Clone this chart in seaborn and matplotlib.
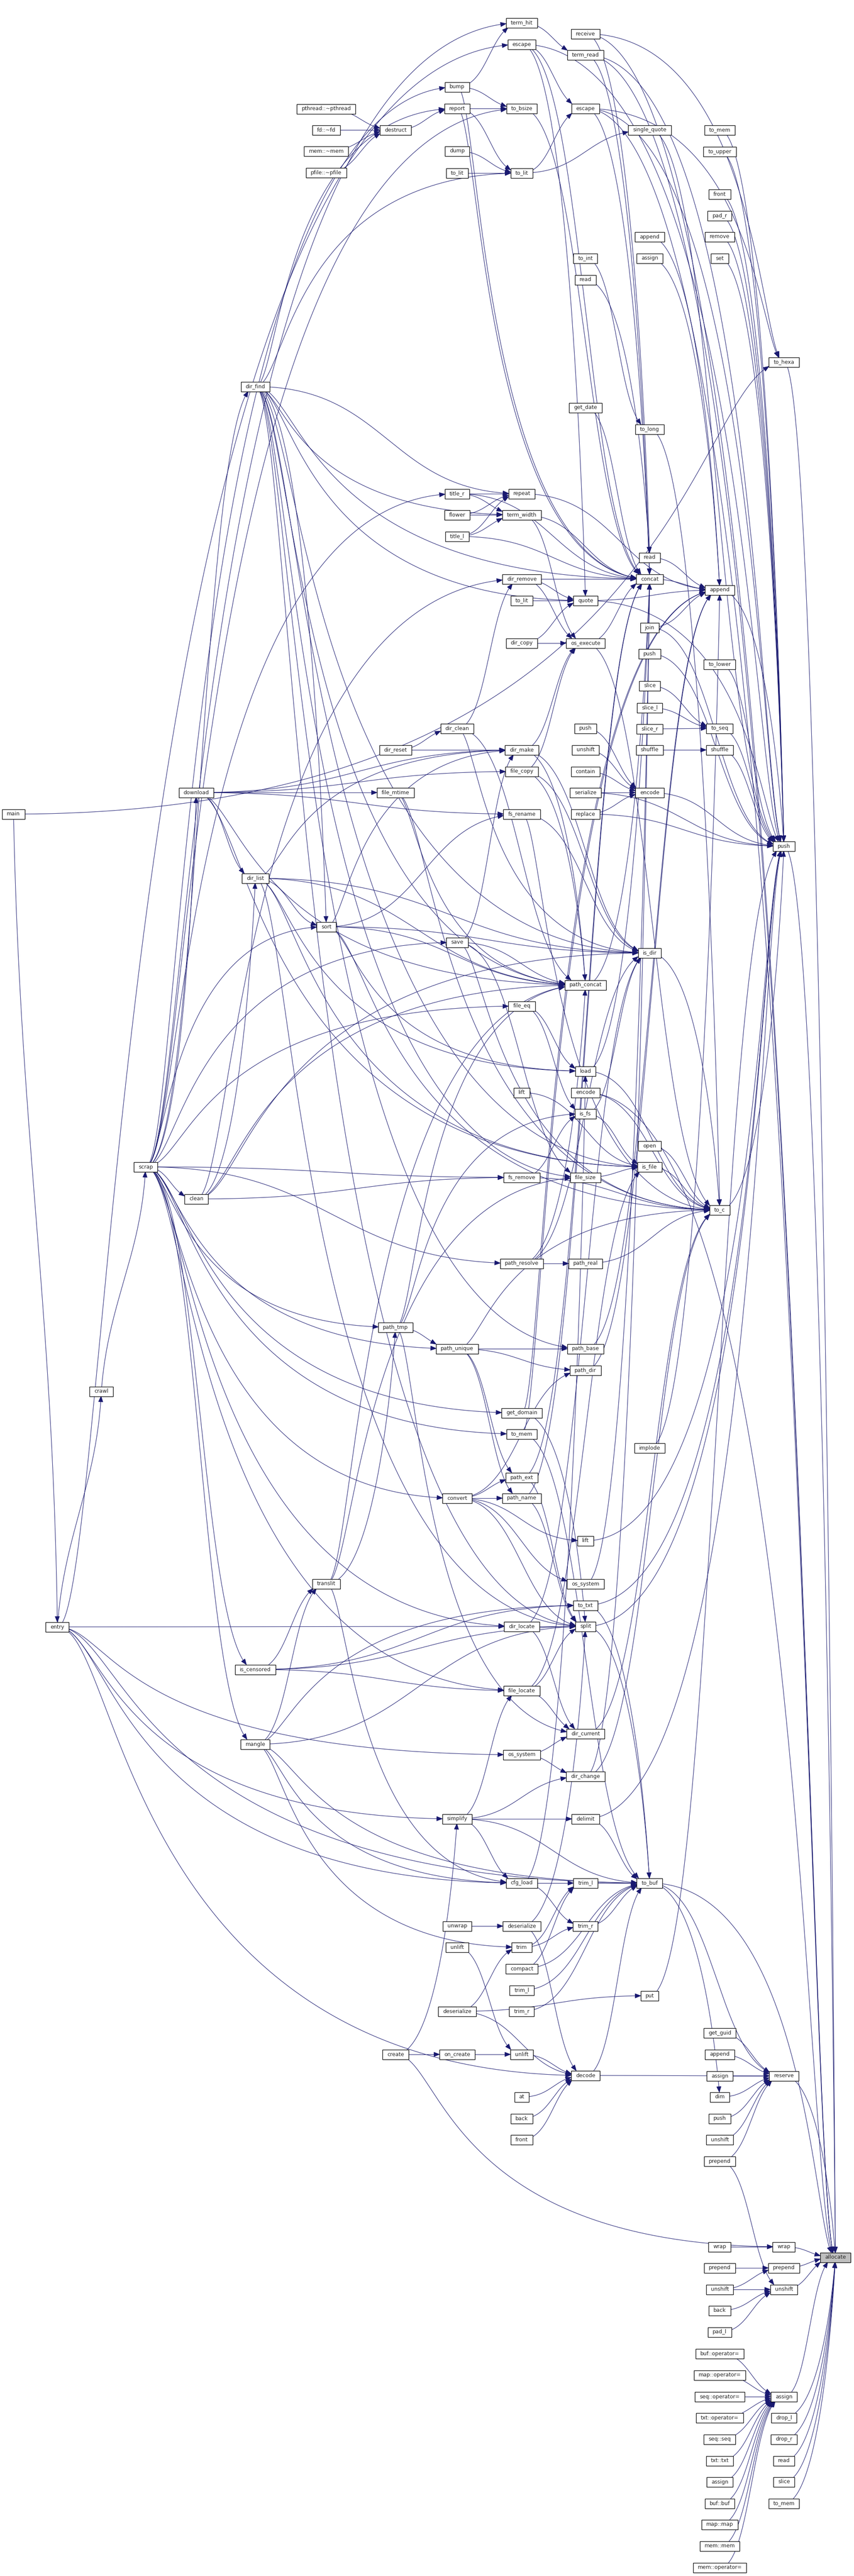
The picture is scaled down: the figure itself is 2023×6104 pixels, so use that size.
import numpy as np
import pandas as pd
import seaborn as sns
import matplotlib.pyplot as plt
from matplotlib.patches import Rectangle
from matplotlib.collections import PolyCollection

# node columns (x of the column) with the names and rows found in each one
col_x = [32, 136, 240, 345, 465, 605, 773, 937, 1083, 1236, 1387, 1539, 1705, 1857, 1979]

ids_0 = ["main"]
rows_0 = [1929]
ids_1 = ["entry"]
rows_1 = [3855]
ids_2 = ["crawl"]
rows_2 = [3297]
ids_3 = ["scrap"]
rows_3 = [2765]
ids_4 = ["download", "clean"]
rows_4 = [1878, 2841]
ids_5 = ["dir_find", "dir_list", "is_censored", "mangle"]
rows_5 = [916, 2081, 3956, 4133]
ids_6 = ["pthread::~pthread", "fd::~fd", "mem::~mem", "pfile::~pfile", "sort", "translit"]
rows_6 = [258, 308, 358, 409, 2196, 3753]
ids_7 = ["destruct", "dir_reset", "file_mtime", "path_tmp", "create"]
rows_7 = [308, 1777, 1878, 3145, 4868]
ids_8 = ["bump", "report", "dump", "to_lit#1", "title_r", "flower", "title_l", "dir_clean",
         "save", "path_unique", "convert", "simplify", "unwrap", "unlift#1", "deserialize#1",
         "on_create"]
rows_8 = [206, 257, 358, 410, 1170, 1220, 1271, 1726, 2233, 3196, 3550, 4310, 4564, 4614,
          4766, 4868]
ids_9 = ["term_hit", "escape#1", "to_bsize", "to_lit#2", "repeat", "term_width", "dir_remove",
         "to_lit#3", "dir_copy", "dir_make", "file_copy", "fs_rename", "file_eq", "lift#1",
         "fs_remove", "path_resolve", "get_domain", "to_mem#1", "path_ext", "path_name",
         "dir_locate", "file_locate", "os_system#1", "cfg_load", "deserialize#2", "trim",
         "compact", "trim_l#1", "trim_r#1", "unlift#2", "at", "back#1", "front#1"]
rows_9 = [54, 105, 257, 410, 1170, 1220, 1372, 1423, 1524, 1777, 1828, 1929, 2384, 2589,
          2790, 2994, 3348, 3398, 3501, 3550, 3854, 4006, 4158, 4462, 4564, 4614, 4665, 4716,
          4766, 4868, 4969, 5020, 5070]
ids_10 = ["receive", "term_read", "escape#2", "to_int", "read#1", "get_date", "quote",
          "os_execute", "push#1", "unshift#1", "contain", "serialize", "replace", "path_concat",
          "load", "encode#1", "is_fs", "file_size", "path_real", "path_base", "path_dir",
          "lift#2", "os_system#2", "to_txt", "split", "dir_current", "dir_change", "delimit",
          "trim_l#2", "trim_r#2", "decode"]
rows_10 = [80, 130, 257, 612, 663, 966, 1423, 1524, 1726, 1777, 1828, 1878, 1929, 2334, 2538,
           2589, 2639, 2790, 2994, 3196, 3247, 3651, 3753, 3804, 3854, 4108, 4209, 4310, 4462,
           4564, 4918]
ids_11 = ["single_quote", "append#1", "assign#1", "to_long", "read#2", "concat", "join",
          "push#2", "slice#1", "slice_l", "slice_r", "shuffle#1", "encode#2", "is_dir", "open",
          "is_file", "implode", "to_buf", "put"]
rows_11 = [308, 561, 612, 1017, 1321, 1372, 1487, 1549, 1625, 1677, 1727, 1777, 1878, 2258,
           2715, 2765, 3431, 4462, 4729]
ids_12 = ["to_mem#2", "to_upper", "front#2", "pad_r", "remove", "set", "append#2", "to_lower",
          "to_seq", "shuffle#2", "to_c", "get_guid", "append#3", "assign#2", "dim", "push#3",
          "unshift#2", "prepend#1", "wrap#1", "prepend#2", "unshift#3", "back#2", "pad_l",
          "buf::operator=", "map::operator=", "seq::operator=", "txt::operator=", "seq::seq",
          "txt::txt", "assign#3", "buf::buf", "map::map", "mem::mem", "mem::operator="]
rows_12 = [308, 359, 460, 511, 561, 612, 1398, 1574, 1726, 1777, 2867, 4817, 4868, 4919, 4969,
           5020, 5070, 5121, 5324, 5374, 5425, 5475, 5526, 5577, 5628, 5679, 5729, 5780, 5831,
           5881, 5932, 5982, 6033, 6084]
ids_13 = ["to_hexa", "push#4", "reserve", "wrap#2", "prepend#3", "unshift#4", "assign#4",
          "drop_l", "drop_r", "read#3", "slice#2", "to_mem#3"]
rows_13 = [858, 2005, 4919, 5324, 5374, 5425, 5679, 5729, 5780, 5831, 5881, 5932]
ids_14 = ["allocate"]
rows_14 = [5349]

column_ids = [ids_0, ids_1, ids_2, ids_3, ids_4, ids_5, ids_6, ids_7, ids_8, ids_9, ids_10,
              ids_11, ids_12, ids_13, ids_14]
column_rows = [rows_0, rows_1, rows_2, rows_3, rows_4, rows_5, rows_6, rows_7, rows_8, rows_9,
               rows_10, rows_11, rows_12, rows_13, rows_14]

# who calls whom (arrow points at the callee)
calls = {
    "main": ["entry", "to_hexa"],
    "entry": ["crawl", "escape#1", "dir_locate", "simplify", "cfg_load", "os_system#1",
              "decode", "to_buf"],
    "crawl": ["scrap"],
    "scrap": ["download", "clean", "dir_find", "bump", "to_bsize", "term_hit", "title_r",
              "path_tmp", "path_unique", "is_censored", "mangle", "sort", "save", "fs_remove",
              "path_resolve", "get_domain", "convert", "file_eq", "dir_locate", "to_mem#1",
              "file_locate"],
    "download": ["dir_list", "file_mtime", "path_concat", "dir_make", "fs_rename", "file_copy",
                 "is_file"],
    "clean": ["dir_list", "fs_remove", "dir_remove", "path_concat", "is_dir"],
    "dir_find": ["report", "to_lit#2", "repeat", "quote", "concat", "path_concat", "is_dir",
                 "is_file", "split", "sort", "term_width", "file_size", "path_base"],
    "dir_list": ["sort", "path_concat", "is_dir", "is_file", "dir_make", "load", "split"],
    "is_censored": ["translit", "split", "to_txt", "file_locate"],
    "mangle": ["translit", "split", "to_txt", "cfg_load", "trim", "to_buf"],
    "pthread::~pthread": ["destruct"],
    "fd::~fd": ["destruct"],
    "mem::~mem": ["destruct"],
    "pfile::~pfile": ["destruct"],
    "sort": ["dir_make", "path_concat", "is_dir", "fs_rename", "load", "to_c"],
    "translit": ["path_tmp", "cfg_load", "path_concat", "file_size"],
    "destruct": ["report"],
    "dir_reset": ["dir_clean", "dir_make"],
    "file_mtime": ["path_concat", "to_c"],
    "path_tmp": ["path_unique", "path_concat", "dir_current", "is_fs"],
    "create": ["on_create", "simplify", "wrap#2"],
    "bump": ["term_hit", "to_bsize", "concat"],
    "report": ["to_lit#2", "to_bsize", "concat"],
    "dump": ["to_lit#2"],
    "to_lit#1": ["to_lit#2"],
    "title_r": ["repeat", "term_width", "concat"],
    "flower": ["repeat", "term_width"],
    "title_l": ["repeat", "term_width", "concat"],
    "dir_clean": ["dir_remove", "path_concat", "is_dir"],
    "save": ["path_concat", "dir_make", "file_size", "to_c"],
    "path_unique": ["path_base", "path_dir", "path_ext", "path_name", "to_c"],
    "convert": ["path_ext", "path_name", "path_dir", "os_system#2", "lift#2", "split"],
    "simplify": ["cfg_load", "delimit", "file_locate", "dir_change", "to_buf"],
    "unwrap": ["deserialize#2"],
    "unlift#1": ["unlift#2"],
    "deserialize#1": ["trim", "decode", "put"],
    "on_create": ["unlift#2"],
    "term_hit": ["term_read"],
    "escape#1": ["escape#2", "quote", "concat", "push#4"],
    "to_bsize": ["concat"],
    "to_lit#2": ["escape#2", "single_quote"],
    "repeat": ["append#2"],
    "term_width": ["os_execute", "concat"],
    "dir_remove": ["quote", "os_execute", "concat"],
    "to_lit#3": ["quote"],
    "dir_copy": ["quote", "os_execute"],
    "dir_make": ["os_execute", "path_concat", "is_dir"],
    "file_copy": ["os_execute", "path_concat", "is_dir"],
    "fs_rename": ["is_dir", "to_c"],
    "file_eq": ["load", "is_fs"],
    "lift#1": ["is_file"],
    "fs_remove": ["is_fs", "to_c"],
    "path_resolve": ["path_real", "path_concat", "is_dir"],
    "get_domain": ["append#2", "split"],
    "to_mem#1": ["append#2", "to_buf"],
    "path_ext": ["concat", "split"],
    "path_name": ["split", "concat"],
    "dir_locate": ["split", "dir_current", "is_dir"],
    "file_locate": ["dir_current", "split", "is_file"],
    "os_system#1": ["dir_current", "dir_change"],
    "cfg_load": ["trim_l#2", "trim_r#2", "to_buf", "load"],
    "deserialize#2": ["split", "decode"],
    "trim": ["trim_l#2", "trim_r#2"],
    "compact": ["trim_l#2", "to_buf"],
    "trim_l#1": ["to_buf"],
    "trim_r#1": ["to_buf"],
    "unlift#2": ["decode"],
    "at": ["decode"],
    "back#1": ["decode"],
    "front#1": ["decode"],
    "receive": ["read#2", "to_hexa", "allocate"],
    "term_read": ["concat", "push#4", "allocate"],
    "escape#2": ["concat", "to_hexa", "push#4", "allocate"],
    "to_int": ["to_long"],
    "read#1": ["read#2"],
    "get_date": ["concat"],
    "quote": ["append#2", "push#4"],
    "os_execute": ["concat", "to_c"],
    "push#1": ["encode#2"],
    "unshift#1": ["encode#2"],
    "contain": ["encode#2"],
    "serialize": ["encode#2", "push#4"],
    "replace": ["encode#2", "push#4"],
    "path_concat": ["concat"],
    "load": ["concat", "to_c"],
    "encode#1": ["allocate", "to_c"],
    "is_fs": ["is_file", "is_dir"],
    "file_size": ["is_file"],
    "path_real": ["to_c"],
    "path_base": ["append#2"],
    "path_dir": ["append#2"],
    "lift#2": ["push#4"],
    "os_system#2": ["concat"],
    "to_txt": ["push#4", "to_buf"],
    "split": ["to_buf", "push#4"],
    "dir_current": ["to_c"],
    "dir_change": ["concat", "to_c"],
    "delimit": ["to_buf", "push#4"],
    "trim_l#2": ["to_buf"],
    "trim_r#2": ["to_buf"],
    "decode": ["to_buf", "reserve"],
    "single_quote": ["push#4"],
    "append#1": ["append#2"],
    "assign#1": ["append#2"],
    "to_long": ["to_c"],
    "read#2": ["append#2"],
    "concat": ["append#2"],
    "join": ["append#2", "push#4"],
    "push#2": ["push#4"],
    "slice#1": ["to_seq"],
    "slice_l": ["to_seq"],
    "slice_r": ["to_seq"],
    "shuffle#1": ["shuffle#2"],
    "encode#2": ["push#4"],
    "is_dir": ["to_c"],
    "open": ["to_c"],
    "is_file": ["to_c"],
    "implode": ["append#2"],
    "to_buf": ["allocate", "reserve", "dim"],
    "put": ["push#4"],
    "to_mem#2": ["push#4"],
    "to_upper": ["push#4"],
    "front#2": ["push#4"],
    "pad_r": ["push#4"],
    "remove": ["push#4"],
    "set": ["push#4"],
    "append#2": ["push#4"],
    "to_lower": ["push#4"],
    "to_seq": ["push#4"],
    "shuffle#2": ["push#4"],
    "to_c": ["push#4"],
    "get_guid": ["reserve"],
    "append#3": ["reserve"],
    "assign#2": ["reserve"],
    "dim": ["reserve"],
    "push#3": ["reserve"],
    "unshift#2": ["reserve"],
    "prepend#1": ["reserve", "unshift#4"],
    "wrap#1": ["wrap#2"],
    "prepend#2": ["prepend#3"],
    "unshift#3": ["unshift#4", "prepend#3"],
    "back#2": ["unshift#4"],
    "pad_l": ["unshift#4"],
    "buf::operator=": ["assign#4"],
    "map::operator=": ["assign#4"],
    "seq::operator=": ["assign#4"],
    "txt::operator=": ["assign#4"],
    "seq::seq": ["assign#4"],
    "txt::txt": ["assign#4"],
    "assign#3": ["assign#4"],
    "buf::buf": ["assign#4"],
    "map::map": ["assign#4"],
    "mem::mem": ["assign#4"],
    "mem::operator=": ["assign#4"],
    "to_hexa": ["allocate"],
    "push#4": ["allocate"],
    "reserve": ["allocate"],
    "wrap#2": ["allocate"],
    "prepend#3": ["allocate"],
    "unshift#4": ["allocate"],
    "assign#4": ["allocate"],
    "drop_l": ["allocate"],
    "drop_r": ["allocate"],
    "read#3": ["allocate"],
    "slice#2": ["allocate"],
    "to_mem#3": ["allocate"],
}

# targets whose long edges run down near the target side of the graph
hub_targets = ["allocate", "push#4", "reserve", "to_hexa"]

edge_color = "#191970"

sns.set_theme(style="white")
plt.rcParams["font.family"] = ["DejaVu Sans"]

fig = plt.figure(figsize=(20.23, 61.04), dpi=100)
ax = fig.add_axes([0, 0, 1, 1])
ax.set_xlim(0, 2023)
ax.set_ylim(6104, 0)

# nodes: label text first, so the box can be sized on it
pos = {}
half_w = {}
half_h = 11.5
renderer = fig.canvas.get_renderer()
for cx, ids, rows in zip(col_x, column_ids, column_rows):
    for nid, cy in zip(ids, rows):
        label = nid.split("#")[0]
        t = ax.text(cx, cy, label, ha="center", va="center", fontsize=9, zorder=5)
        pos[nid] = np.array([cx, cy], dtype=float)
        half_w[nid] = (t.get_window_extent(renderer).width + 22) / 2

for nid, (cx, cy) in pos.items():
    face = "#bfbfbf" if nid == "allocate" else "white"
    ax.add_patch(Rectangle((cx - half_w[nid], cy - half_h), 2 * half_w[nid], 2 * half_h,
                           facecolor=face, edgecolor="black", lw=1.0, zorder=4))


def bezier(ctrl, t):
    t = np.asarray(t, dtype=float)[:, None]
    p0, p1, p2, p3 = ctrl
    return ((1 - t) ** 3) * p0 + 3 * ((1 - t) ** 2) * t * p1 + 3 * (1 - t) * t ** 2 * p2 + t ** 3 * p3


def inside(pt, nid):
    c = pos[nid]
    return abs(pt[0] - c[0]) <= half_w[nid] and abs(pt[1] - c[1]) <= half_h


def edge_t(ctrl, nid, t_in, t_out):
    for _ in range(40):
        tm = (t_in + t_out) / 2
        if inside(bezier(ctrl, [tm])[0], nid):
            t_in = tm
        else:
            t_out = tm
    return t_out


def controls(src, dst):
    p0, p3 = pos[src], pos[dst]
    dx, dy = p3[0] - p0[0], p3[1] - p0[1]
    if abs(dy) > 3 * dx and dx < 260:
        # steep: enter through top / bottom; the narrow hops also leave that way
        if dx < 120:
            c1 = np.array([p0[0] + 0.15 * dx, p0[1] + 0.4 * dy])
        else:
            c1 = np.array([p0[0] + 0.6 * dx, p0[1]])
        return (p0, c1, np.array([p3[0] - 0.1 * dx, p3[1] - 0.4 * dy]), p3)
    if dx > 380 and abs(dy) > 300:
        if dst in hub_targets:
            xm = p3[0] - 0.12 * dx
        else:
            xm = p0[0] + 0.12 * dx
        return (p0, np.array([xm, p0[1]]), np.array([xm, p3[1]]), p3)
    f = 0.5
    return (p0, p0 + np.array([f * dx, 0.0]), p3 - np.array([f * dx, 0.0]), p3)


grid = np.linspace(0, 1, 1201)
rows = []
arrows = []
arrow_len, arrow_half = 13.0, 5.0
k = 0
for src, dsts in calls.items():
    for dst in dsts:
        ctrl = controls(src, dst)
        pts = bezier(ctrl, grid)
        out_src = [i for i, p in enumerate(pts) if not inside(p, src)]
        out_dst = [i for i, p in enumerate(pts) if not inside(p, dst)]
        i0, i1 = out_src[0], out_dst[-1]
        ts = edge_t(ctrl, src, grid[i0 - 1], grid[i0])
        te = edge_t(ctrl, dst, grid[i1 + 1], grid[i1])
        seg = bezier(ctrl, np.linspace(ts, te, 200))
        tip = seg[-1]
        # walk back along the curve for the arrow base
        rev = seg[::-1]
        dist = np.cumsum(np.r_[0, np.hypot(*np.diff(rev, axis=0).T)])
        j = min(int(np.searchsorted(dist, arrow_len)), len(seg) - 1)
        d = tip - rev[j]
        d = d / (np.hypot(*d) + 1e-9)
        base = tip - d * arrow_len
        perp = np.array([-d[1], d[0]])
        arrows.append([tip, base + perp * arrow_half, base - perp * arrow_half])
        line = np.vstack([rev[j:][::-1], base])
        for x, y in line:
            rows.append((k, x, y))
        k += 1

edges = pd.DataFrame(rows, columns=["edge", "x", "y"])
sns.lineplot(data=edges, x="x", y="y", units="edge", estimator=None, sort=False,
             color=edge_color, linewidth=0.8, ax=ax, legend=False, zorder=2)
ax.add_collection(PolyCollection(arrows, facecolor=edge_color, edgecolor=edge_color,
                                 lw=0.8, zorder=3))

ax.set_xlim(0, 2023)
ax.set_ylim(6104, 0)
ax.set_xlabel("")
ax.set_ylabel("")
ax.axis("off")
fig.savefig("out.png", dpi=100, facecolor="white")
